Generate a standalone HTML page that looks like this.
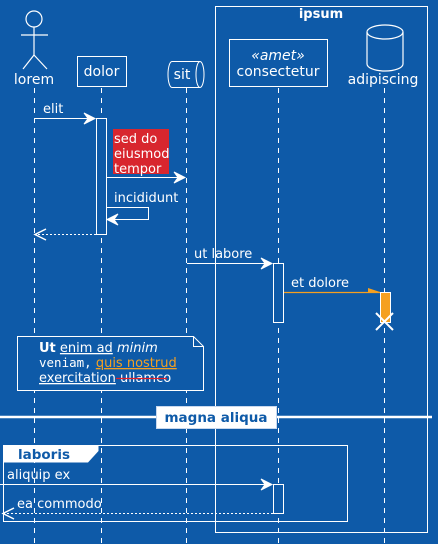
<!DOCTYPE html>
<html><head><meta charset="utf-8"><style>
html,body{margin:0;padding:0;background:#0e5aa8;}
svg{display:block;font-family:"DejaVu Sans","Liberation Sans",sans-serif;}
</style></head><body>
<svg width="438" height="544" viewBox="0 0 438 544" xmlns="http://www.w3.org/2000/svg">
<rect width="438" height="544" fill="#0e5aa8"/>
<g stroke="#fff" fill="none" stroke-width="1">
  <rect x="215.5" y="6.5" width="212" height="526"/>
  <g stroke-dasharray="5,5">
    <line x1="34.5" y1="88" x2="34.5" y2="544"/>
    <line x1="101.5" y1="88" x2="101.5" y2="544"/>
    <line x1="186.5" y1="88" x2="186.5" y2="544"/>
    <line x1="278.5" y1="88" x2="278.5" y2="544"/>
    <line x1="384.5" y1="88" x2="384.5" y2="544"/>
  </g>
</g>
<text x="321" y="18" fill="#fff" font-size="13" font-weight="bold" text-anchor="middle">ipsum</text>
<g stroke="#fff" fill="none" stroke-width="1.2">
  <circle cx="34" cy="19" r="8"/>
  <line x1="34" y1="27" x2="34" y2="55"/>
  <line x1="21" y1="35" x2="48" y2="35"/>
  <line x1="34" y1="55" x2="23" y2="69"/>
  <line x1="34" y1="55" x2="47" y2="69"/>
</g>
<text x="34" y="84" fill="#fff" font-size="14" text-anchor="middle">lorem</text>
<rect x="77.5" y="56.5" width="49" height="30" fill="none" stroke="#fff"/>
<text x="101.5" y="76" fill="#fff" font-size="14" text-anchor="middle">dolor</text>
<g stroke="#fff" fill="none" stroke-width="1">
  <path d="M172,61.5 H200 A4,13 0 0 1 200,87.5 H172 A4,13 0 0 1 172,61.5 Z"/>
  <path d="M200,61.5 A4,13 0 0 0 200,87.5"/>
</g>
<text x="182" y="79" fill="#fff" font-size="14" text-anchor="middle">sit</text>
<rect x="229.5" y="39.5" width="98" height="47" fill="none" stroke="#fff"/>
<text x="278" y="60" fill="#fff" font-size="14" font-style="italic" text-anchor="middle">«amet»</text>
<text x="278" y="76" fill="#fff" font-size="14" text-anchor="middle">consectetur</text>
<g stroke="#fff" fill="none" stroke-width="1.2">
  <ellipse cx="385" cy="32" rx="18" ry="7"/>
  <path d="M367,32 V64 A18,7 0 0 0 403,64 V32"/>
</g>
<text x="383" y="84" fill="#fff" font-size="14" text-anchor="middle">adipiscing</text>
<rect x="96.5" y="118.5" width="10" height="116" fill="#0e5aa8" stroke="#fff"/>
<rect x="273.5" y="263.5" width="10" height="59" fill="#0e5aa8" stroke="#fff"/>
<rect x="380.5" y="292.5" width="10" height="30" fill="#f5a020" stroke="#fff"/>
<rect x="273.5" y="484.5" width="10" height="29" fill="#0e5aa8" stroke="#fff"/>
<g stroke="#fff" fill="none" stroke-width="1">
  <line x1="34" y1="118.5" x2="95" y2="118.5"/>
  <path d="M84,113 L95,118.5 L84,124 L88,118.5 Z" fill="#fff"/>
  <line x1="107" y1="177.5" x2="185" y2="177.5"/>
  <path d="M174,172 L185,177.5 L174,183 L178,177.5 Z" fill="#fff"/>
  <path d="M107,207.5 H148.5 V219.5 H107"/>
  <path d="M118,214 L107,219.5 L118,225 L114,219.5 Z" fill="#fff"/>
  <line x1="96" y1="234.5" x2="35" y2="234.5" stroke-dasharray="2,2"/>
  <path d="M46,229 L35,234.5 L46,240" stroke-width="1.5"/>
  <line x1="187" y1="263.5" x2="272" y2="263.5"/>
  <path d="M261,258 L272,263.5 L261,269 L265,263.5 Z" fill="#fff"/>
  <line x1="0" y1="484.5" x2="272" y2="484.5"/>
  <path d="M261,479 L272,484.5 L261,490 L265,484.5 Z" fill="#fff"/>
  <line x1="273" y1="513.5" x2="3" y2="513.5" stroke-dasharray="2,2"/>
  <path d="M14,508 L3,513.5 L14,519" stroke-width="1.5"/>
</g>
<line x1="284" y1="292.5" x2="380" y2="292.5" stroke="#f5a020" stroke-width="1.3"/>
<path d="M368,288 L380,292 L368,292 Z" fill="#f5a020"/>
<g stroke="#fff" stroke-width="2">
  <line x1="376" y1="313" x2="393" y2="330"/><line x1="393" y1="313" x2="376" y2="330"/>
</g>
<g fill="#fff" font-size="13">
  <text x="43" y="113">elit</text>
  <text x="114" y="202">incididunt</text>
  <text x="194" y="258">ut labore</text>
  <text x="291" y="287">et dolore</text>
  <text x="7" y="479">aliquip ex</text>
  <text x="17" y="508">ea commodo</text>
</g>
<rect x="113" y="129" width="56" height="45" fill="#d8262e"/>
<g fill="#fff" font-size="13">
  <text x="114" y="143">sed do</text><text x="114" y="158">eiusmod</text><text x="114" y="173">tempor</text>
</g>
<path d="M17.5,336.5 H193.5 L203.5,346.5 V390.5 H17.5 Z M193.5,336.5 V346.5 H203.5" fill="#0e5aa8" stroke="#fff"/>
<g fill="#fff" font-size="13">
  <text x="39" y="352"><tspan font-weight="bold">Ut</tspan> <tspan text-decoration="underline">enim ad</tspan> <tspan font-style="italic">minim</tspan></text>
  <text x="39" y="367"><tspan font-family="'DejaVu Sans Mono','Liberation Mono',monospace" font-size="12.5">veniam,</tspan> <tspan fill="#f5a020" text-decoration="underline">quis nostrud</tspan></text>
  <text x="39" y="382"><tspan text-decoration="underline">exercitation</tspan> <tspan>ullamco</tspan></text>
</g>
<line x1="116" y1="378.5" x2="167" y2="378.5" stroke="#e0202a" stroke-width="1.2"/>
<line x1="0" y1="417" x2="432" y2="417" stroke="#fff" stroke-width="2.5"/>
<rect x="156.5" y="406.5" width="120" height="22" fill="#fff" stroke="#c8d8ee"/>
<text x="216" y="422" fill="#0e5aa8" font-size="13.5" font-weight="bold" text-anchor="middle">magna aliqua</text>
<rect x="3.5" y="445.5" width="344" height="76" fill="none" stroke="#fff"/>
<path d="M3.5,445.5 H98.5 V451 L88,462.5 H3.5 Z" fill="#fff"/>
<text x="18" y="459" fill="#0e5aa8" font-size="13.5" font-weight="bold">laboris</text>
</svg>
</body></html>
